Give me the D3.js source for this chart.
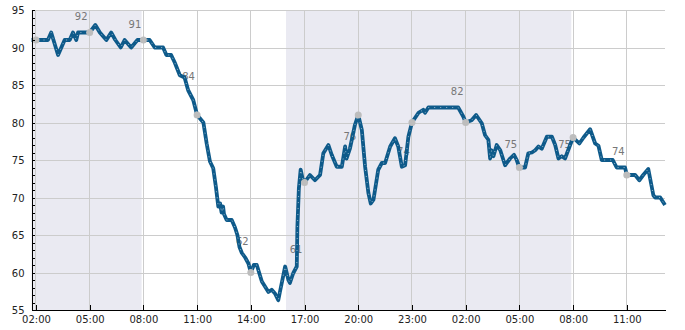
<!DOCTYPE html>
<html lang="en">
<head>
<meta charset="UTF-8">
<title>Temperature</title>
<script src="https://d3js.org/d3.v7.min.js"></script>
<style>
    body { margin: 0; background: #fff; font-family: "DejaVu Sans", sans-serif; }
    .grid line { stroke: #cccccc; stroke-width: 1; shape-rendering: crispEdges; }
    .axis path, .axis line { stroke: #000; shape-rendering: crispEdges; }
    .axis text { font-size: 10px; fill: #222; font-family: "DejaVu Sans", sans-serif; }
    .val-label { font-size: 10px; fill: #777; }
</style>
</head>
<body>
<svg width="685" height="330"></svg>
<script>
    // readings (day-month hh:mm, value)
    const times = [
        "01-01 01:45", "01-01 02:40", "01-01 02:51", "01-01 03:14", "01-01 03:36", "01-01 03:53",
        "01-01 04:04", "01-01 04:15", "01-01 04:21", "01-01 05:00", "01-01 05:19", "01-01 05:34",
        "01-01 05:56", "01-01 06:12", "01-01 06:26", "01-01 06:44", "01-01 06:57", "01-01 07:19",
        "01-01 07:40", "01-01 08:21", "01-01 08:38", "01-01 09:06", "01-01 09:17", "01-01 09:33",
        "01-01 09:45", "01-01 10:02", "01-01 10:18", "01-01 10:30", "01-01 10:47", "01-01 11:00",
        "01-01 11:21", "01-01 11:32", "01-01 11:43", "01-01 11:54", "01-01 12:03", "01-01 12:11",
        "01-01 12:17", "01-01 12:22", "01-01 12:27", "01-01 12:30", "01-01 12:39", "01-01 12:56",
        "01-01 13:07", "01-01 13:15", "01-01 13:22", "01-01 13:30", "01-01 13:41", "01-01 13:52",
        "01-01 14:00", "01-01 14:10", "01-01 14:20", "01-01 14:37", "01-01 14:48", "01-01 14:59",
        "01-01 15:10", "01-01 15:21", "01-01 15:32", "01-01 15:38", "01-01 15:55", "01-01 16:06",
        "01-01 16:11", "01-01 16:22", "01-01 16:34", "01-01 16:36", "01-01 16:41", "01-01 16:47",
        "01-01 16:53", "01-01 17:00", "01-01 17:18", "01-01 17:35", "01-01 17:52", "01-01 18:03",
        "01-01 18:20", "01-01 18:31", "01-01 18:48", "01-01 19:05", "01-01 19:16", "01-01 19:21",
        "01-01 19:32", "01-01 19:49", "01-01 20:00", "01-01 20:12", "01-01 20:23", "01-01 20:34",
        "01-01 20:42", "01-01 20:51", "01-01 21:07", "01-01 21:19", "01-01 21:30", "01-01 21:47",
        "01-01 22:03", "01-01 22:14", "01-01 22:26", "01-01 22:37", "01-01 22:48", "01-01 23:00",
        "01-01 23:22", "01-01 23:38", "01-01 23:44", "01-01 23:55", "01-02 01:35", "01-02 01:52",
        "01-02 02:00", "01-02 02:20", "01-02 02:35", "01-02 02:54", "01-02 03:05", "01-02 03:16",
        "01-02 03:22", "01-02 03:27", "01-02 03:33", "01-02 03:44", "01-02 03:56", "01-02 04:12",
        "01-02 04:29", "01-02 04:42", "01-02 04:51", "01-02 05:00", "01-02 05:19", "01-02 05:30",
        "01-02 05:42", "01-02 05:53", "01-02 06:04", "01-02 06:15", "01-02 06:32", "01-02 06:49",
        "01-02 07:00", "01-02 07:11", "01-02 07:22", "01-02 07:33", "01-02 07:50", "01-02 08:00",
        "01-02 08:21", "01-02 08:35", "01-02 08:57", "01-02 09:14", "01-02 09:25", "01-02 09:36",
        "01-02 10:13", "01-02 10:26", "01-02 10:54", "01-02 11:00", "01-02 11:28", "01-02 11:42",
        "01-02 11:55", "01-02 12:12", "01-02 12:29", "01-02 12:35", "01-02 12:52", "01-02 13:08"
    ];
    const values = [
        91, 91, 92, 89, 91, 91,
        92, 91, 92, 92, 93, 92,
        91, 92, 91, 90, 91, 90,
        91, 91, 90, 90, 89, 89,
        88, 86.3, 86, 84.3, 83, 81,
        80, 77.2, 74.8, 73.9, 71.4, 68.8,
        69.2, 68, 68.8, 67.8, 67, 67,
        66, 65, 63.4, 62.6, 62, 61.2,
        60, 61, 61, 58.8, 58.1, 57.4,
        57.7, 57.2, 56.3, 57.5, 60.8, 59,
        58.6, 59.9, 60.8, 66, 71.2, 73.7,
        72.6, 72, 73, 72.3, 73, 75.9,
        77, 75.7, 74.1, 74.1, 76.8, 75.2,
        76.5, 79.7, 81, 79, 74.1, 70.6,
        69.2, 69.7, 73.7, 74.6, 74.6, 76.8,
        77.9, 76.8, 74.1, 74.3, 78.1, 80,
        81.3, 81.7, 81.3, 82, 82, 80.8,
        80, 80.3, 81, 79.9, 78.3, 77.7,
        75.2, 76.3, 75.5, 77, 76.3, 74.3,
        75.2, 75.7, 75, 74, 74, 75.9,
        76, 76.3, 76.8, 76.5, 78.1, 78.1,
        77, 75.2, 75.5, 75.2, 77, 78,
        77.2, 78, 79.1, 77.2, 76.9, 75,
        75, 74, 74, 73, 73, 72.3,
        73, 73.8, 70.3, 70, 70, 69
    ];

    // 3-hourly points and their labels
    const markTimes = ["01-01 02:00", "01-01 05:00", "01-01 08:00", "01-01 11:00", "01-01 14:00", "01-01 17:00",
        "01-01 20:00", "01-01 23:00", "01-02 02:00", "01-02 05:00", "01-02 08:00", "01-02 11:00"];
    const markValues = [91, 92, 91, 81, 60, 72, 81, 80, 80, 74, 78, 73];
    const markLabels = [null, 92, 91, 84, 62, 61, 76, 74, 82, 75, 75, 74];

    // night periods
    const nightStart = ["01-01 01:45", "01-01 15:58"];
    const nightEnd = ["01-01 07:54", "01-02 07:54"];

    const tickTimes = markTimes;
    const yTicks = [55, 60, 65, 70, 75, 80, 85, 90, 95];

    const parse = d3.timeParse("%m-%d %H:%M");
    const data = times.map((t, i) => ({ t: parse(t), v: values[i] }));
    const marks = markTimes.map((t, i) => ({ t: parse(t), v: markValues[i], label: markLabels[i] }));

    const margin = { top: 10, right: 20, bottom: 20, left: 31.5 };
    const width = 685, height = 330;

    const svg = d3.select("svg");

    const x = d3.scaleTime()
        .domain(d3.extent(data, d => d.t))
        .range([margin.left, width - margin.right]);
    const y = d3.scaleLinear()
        .domain([55, 95])
        .range([height - margin.bottom, margin.top]);

    // shaded nights
    svg.append("g").selectAll("rect")
        .data(nightStart.map((s, i) => [parse(s), parse(nightEnd[i])]))
        .join("rect")
        .attr("x", d => x(d[0]))
        .attr("width", d => x(d[1]) - x(d[0]))
        .attr("y", y(95))
        .attr("height", y(55) - y(95))
        .attr("fill", "#eaeaf2");

    // grid
    const grid = svg.append("g").attr("class", "grid");
    grid.selectAll(".h").data(yTicks).join("line")
        .attr("x1", x.range()[0]).attr("x2", x.range()[1])
        .attr("y1", d => Math.round(y(d)) + 0.5).attr("y2", d => Math.round(y(d)) + 0.5);
    grid.selectAll(".v").data(tickTimes.map(parse)).join("line")
        .attr("x1", d => x(d)).attr("x2", d => x(d))
        .attr("y1", y(95)).attr("y2", y(55));

    // value labels (under the line)
    svg.append("g").selectAll("text")
        .data(marks.filter(d => d.label !== null))
        .join("text")
        .attr("class", "val-label")
        .attr("x", d => x(d.t) - 8.5)
        .attr("y", d => y(d.label) - 12.5)
        .attr("text-anchor", "middle")
        .text(d => d.label);

    // line
    const line = d3.line().x(d => x(d.t)).y(d => y(d.v));
    svg.append("path")
        .datum(data)
        .attr("fill", "none")
        .attr("stroke", "#0e5a8a")
        .attr("stroke-width", 3.8)
        .attr("stroke-linejoin", "round")
        .attr("d", line);
    svg.append("path")
        .datum(data)
        .attr("fill", "none")
        .attr("stroke", "#ffffff")
        .attr("stroke-opacity", 0.7)
        .attr("stroke-width", 0.8)
        .attr("stroke-dasharray", "1,5")
        .attr("d", line);

    // 3-hourly dots
    svg.append("g").selectAll("circle")
        .data(marks)
        .join("circle")
        .attr("cx", d => x(d.t))
        .attr("cy", d => y(d.v))
        .attr("r", 3.5)
        .attr("fill", "#bdbdbd");

    // axes
    svg.append("g")
        .attr("class", "axis")
        .attr("transform", `translate(0,${y(55)})`)
        .call(d3.axisBottom(x)
            .tickValues(tickTimes.map(parse))
            .tickFormat(d3.timeFormat("%H:%M"))
            .tickSize(-5).tickSizeOuter(0).tickPadding(6));

    svg.append("g")
        .attr("class", "axis")
        .attr("transform", `translate(${margin.left},0)`)
        .call(d3.axisLeft(y).ticks(40).tickSize(-3.5).tickSizeOuter(0)
            .tickFormat(d => yTicks.includes(d) ? d : "").tickPadding(7))
        .call(g => g.selectAll(".tick text").attr("dy", "0.35em"));
</script>
</body>
</html>
